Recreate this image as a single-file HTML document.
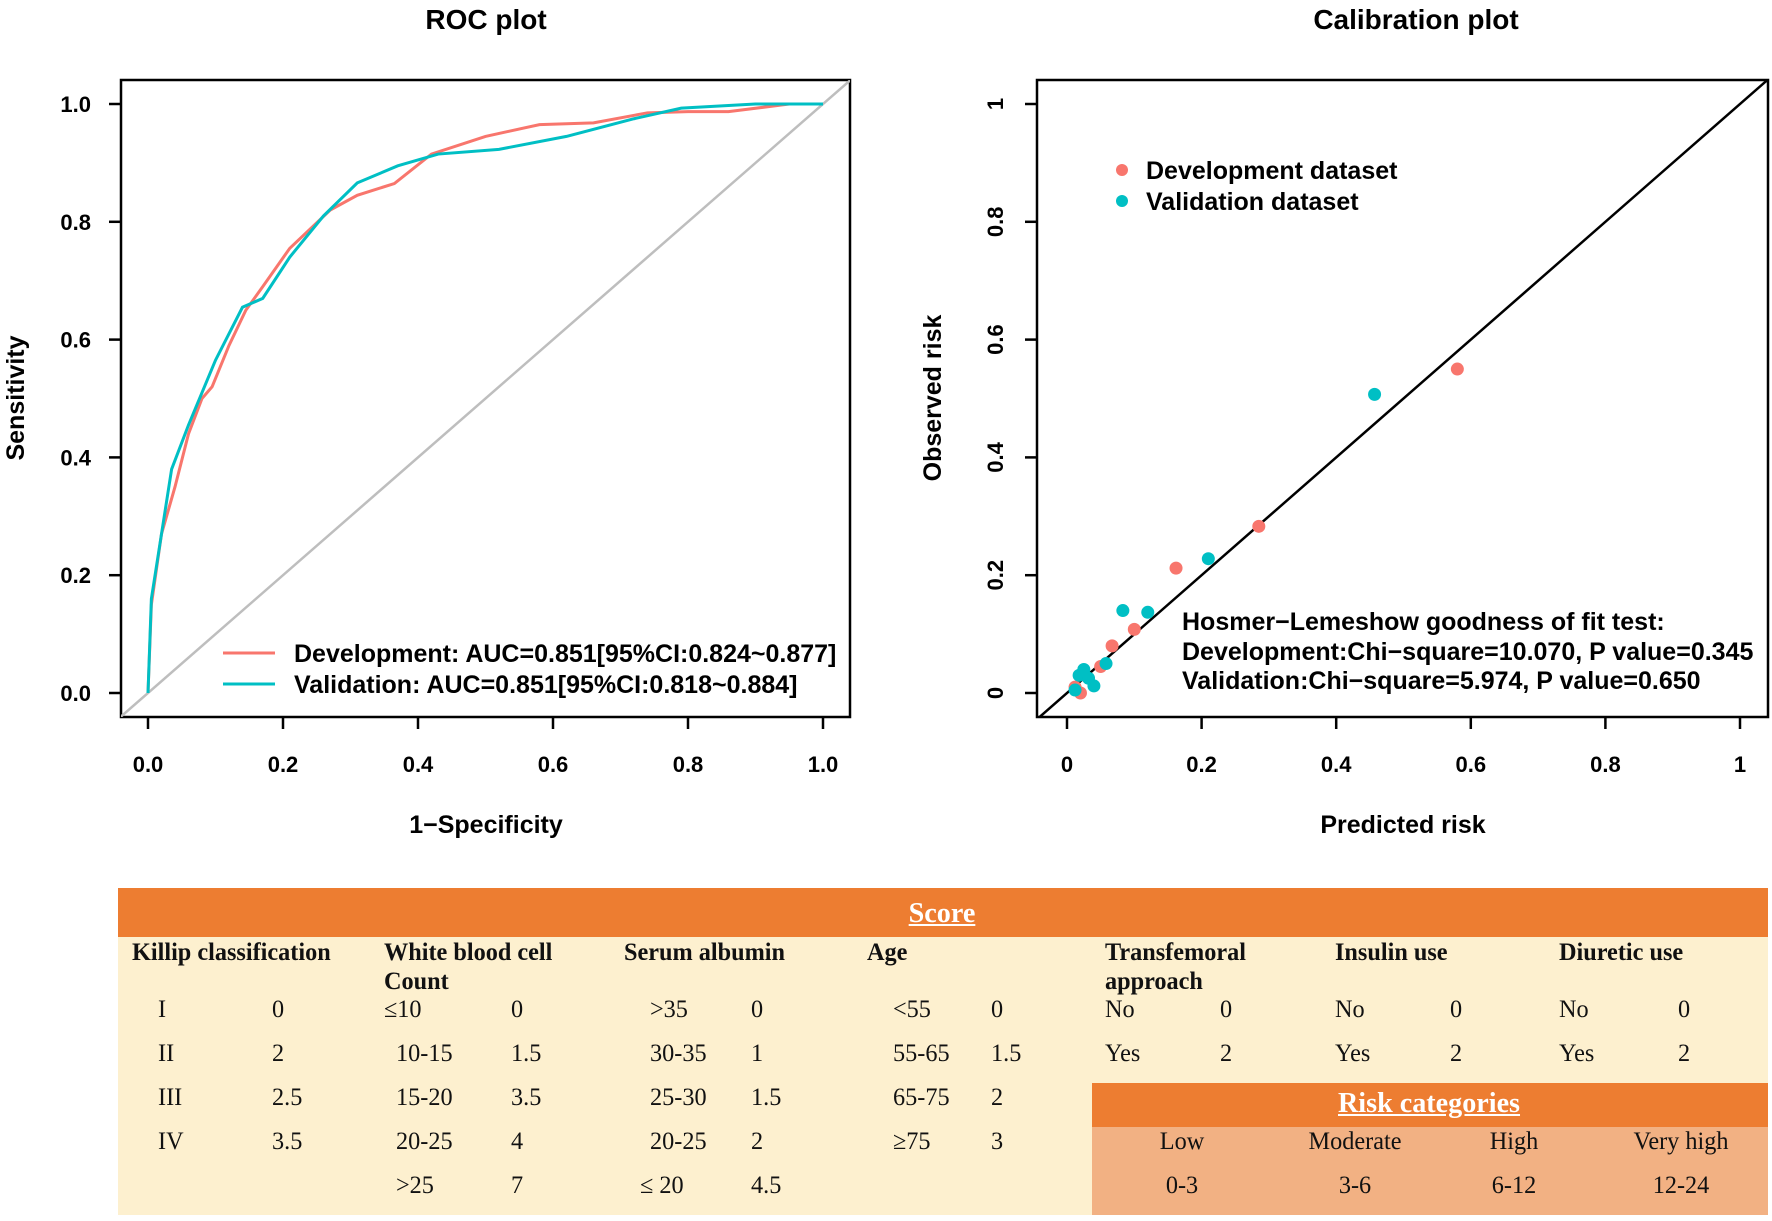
<!DOCTYPE html>
<html><head><meta charset="utf-8">
<style>
body{margin:0;width:1772px;height:1221px;background:#fff;overflow:hidden;position:relative;font-family:"Liberation Sans",sans-serif}
svg{position:absolute;left:0;top:0}
.t{position:absolute;font-family:"Liberation Serif",serif;font-size:25px;color:#111;white-space:nowrap;transform:scaleX(0.97);transform-origin:left top}
.c{transform:translateX(-50%) scaleX(0.97);transform-origin:center top}
</style></head><body>
<svg id="s" width="1772" height="1221" font-family="Liberation Sans, sans-serif" font-weight="bold">
<text x="486" y="29" font-size="28" text-anchor="middle">ROC plot</text>
<text x="1416" y="29" font-size="28" text-anchor="middle">Calibration plot</text>
<rect x="121" y="80" width="729" height="637" fill="none" stroke="#000" stroke-width="2.5"/>
<rect x="1037" y="80" width="731" height="637" fill="none" stroke="#000" stroke-width="2.5"/>
<defs><clipPath id="c1"><rect x="121" y="80" width="729" height="637"/></clipPath><clipPath id="c2"><rect x="1037" y="80" width="731" height="637"/></clipPath></defs>
<g id="g1" clip-path="url(#c1)"></g>
<g id="g2" clip-path="url(#c2)"></g>
<g id="ax" font-size="22"></g>
<text x="486" y="833" font-size="25" text-anchor="middle">1−Specificity</text>
<text x="1403" y="833" font-size="25" text-anchor="middle">Predicted risk</text>
<text transform="translate(24,398) rotate(-90)" font-size="25" text-anchor="middle">Sensitivity</text>
<text transform="translate(941,398) rotate(-90)" font-size="25" text-anchor="middle">Observed risk</text>
<line x1="223" y1="653" x2="275" y2="653" stroke="#F8766D" stroke-width="3"/>
<line x1="223" y1="684" x2="275" y2="684" stroke="#00BFC4" stroke-width="3"/>
<text x="294" y="662" font-size="25">Development: AUC=0.851[95%CI:0.824~0.877]</text>
<text x="294" y="693" font-size="25">Validation: AUC=0.851[95%CI:0.818~0.884]</text>
<circle cx="1122" cy="170" r="6" fill="#F8766D"/>
<circle cx="1122" cy="201" r="6" fill="#00BFC4"/>
<text x="1146" y="179" font-size="25">Development dataset</text>
<text x="1146" y="210" font-size="25">Validation dataset</text>
<text x="1182" y="630" font-size="25">Hosmer−Lemeshow goodness of fit test:</text>
<text x="1182" y="660" font-size="25">Development:Chi−square=10.070, P value=0.345</text>
<text x="1182" y="689" font-size="25">Validation:Chi−square=5.974, P value=0.650</text>
<rect x="118" y="888" width="1650" height="327" fill="#FDF0CF"/>
<rect x="118" y="888" width="1650" height="49" fill="#ED7D31"/>
<rect x="1092" y="1083" width="676" height="44" fill="#ED7D31"/>
<rect x="1092" y="1127" width="676" height="88" fill="#F2B183"/>
</svg>
<div class="t c" style="left:942px;top:897px;color:#fff;text-decoration:underline;font-size:29px;font-weight:bold">Score</div>
<div class="t c" style="left:1429px;top:1087px;color:#fff;text-decoration:underline;font-size:29px;font-weight:bold">Risk categories</div>
<div id="tb"></div>
<script>
var ns="http://www.w3.org/2000/svg";
function el(p,t,a){var e=document.createElementNS(ns,t);for(var k in a)e.setAttribute(k,a[k]);p.appendChild(e);return e;}
var g1=document.getElementById('g1'),g2=document.getElementById('g2'),ax=document.getElementById('ax');
function X1(x){return 148+675*x}function Y(y){return 693-589*y}function X2(x){return 1067+673*x}
el(g1,'line',{x1:X1(-0.05),y1:Y(-0.05),x2:X1(1.05),y2:Y(1.05),stroke:'#BEBEBE','stroke-width':2.5});
var dev=[[0,0],[0.005,0.15],[0.02,0.27],[0.04,0.35],[0.06,0.44],[0.08,0.5],[0.095,0.52],[0.12,0.59],[0.145,0.65],[0.17,0.69],[0.21,0.755],[0.27,0.82],[0.31,0.845],[0.365,0.865],[0.42,0.915],[0.5,0.945],[0.58,0.965],[0.66,0.968],[0.74,0.985],[0.8,0.987],[0.86,0.987],[0.95,1],[1,1]];
var val=[[0,0],[0.005,0.16],[0.02,0.27],[0.035,0.38],[0.06,0.455],[0.1,0.565],[0.14,0.655],[0.17,0.67],[0.21,0.74],[0.26,0.81],[0.31,0.866],[0.37,0.895],[0.43,0.915],[0.52,0.923],[0.62,0.945],[0.72,0.975],[0.79,0.993],[0.9,1],[1,1]];
function pl(d,c){el(g1,'polyline',{points:d.map(function(p){return X1(p[0])+','+Y(p[1])}).join(' '),fill:'none',stroke:c,'stroke-width':3});}
pl(dev,'#F8766D');pl(val,'#00BFC4');
el(g2,'line',{x1:X2(-0.1),y1:Y(-0.1),x2:X2(1.1),y2:Y(1.1),stroke:'#000','stroke-width':2.5});
var cd=[[0.58,0.55],[0.285,0.283],[0.162,0.212],[0.10,0.108],[0.067,0.08],[0.05,0.045],[0.02,0.0],[0.012,0.01]];
var cv=[[0.457,0.507],[0.21,0.228],[0.083,0.14],[0.12,0.137],[0.058,0.05],[0.025,0.04],[0.018,0.03],[0.04,0.012],[0.012,0.005],[0.032,0.025]];
cd.forEach(function(p){el(g2,'circle',{cx:X2(p[0]),cy:Y(p[1]),r:6.5,fill:'#F8766D'})});
cv.forEach(function(p){el(g2,'circle',{cx:X2(p[0]),cy:Y(p[1]),r:6.5,fill:'#00BFC4'})});
var lb=['0.0','0.2','0.4','0.6','0.8','1.0'],lc=['0','0.2','0.4','0.6','0.8','1'];
for(var i=0;i<6;i++){var v=i*0.2;
 el(ax,'line',{x1:X1(v),y1:717,x2:X1(v),y2:729,stroke:'#000','stroke-width':2.5});
 el(ax,'text',{x:X1(v),y:772,'text-anchor':'middle'}).textContent=lb[i];
 el(ax,'line',{x1:109,y1:Y(v),x2:121,y2:Y(v),stroke:'#000','stroke-width':2.5});
 el(ax,'text',{x:91,y:Y(v)+8,'text-anchor':'end'}).textContent=lb[i];
 el(ax,'line',{x1:X2(v),y1:717,x2:X2(v),y2:729,stroke:'#000','stroke-width':2.5});
 el(ax,'text',{x:X2(v),y:772,'text-anchor':'middle'}).textContent=lc[i];
 el(ax,'line',{x1:1025,y1:Y(v),x2:1037,y2:Y(v),stroke:'#000','stroke-width':2.5});
 el(ax,'text',{transform:'translate(1003,'+Y(v)+') rotate(-90)','text-anchor':'middle'}).textContent=lc[i];
}
var T=[
[132,953,'Killip classification'],[384,953,'White blood cell'],[384,982,'Count'],[624,953,'Serum albumin'],[867,953,'Age'],[1105,953,'Transfemoral'],[1105,982,'approach'],[1335,953,'Insulin use'],[1559,953,'Diuretic use'],
[158,1010,'I'],[272,1010,'0'],[384,1010,'≤10'],[511,1010,'0'],[650,1010,'>35'],[751,1010,'0'],[893,1010,'<55'],[991,1010,'0'],[1105,1010,'No'],[1220,1010,'0'],[1335,1010,'No'],[1450,1010,'0'],[1559,1010,'No'],[1678,1010,'0'],
[158,1054,'II'],[272,1054,'2'],[396,1054,'10-15'],[511,1054,'1.5'],[650,1054,'30-35'],[751,1054,'1'],[893,1054,'55-65'],[991,1054,'1.5'],[1105,1054,'Yes'],[1220,1054,'2'],[1335,1054,'Yes'],[1450,1054,'2'],[1559,1054,'Yes'],[1678,1054,'2'],
[158,1098,'III'],[272,1098,'2.5'],[396,1098,'15-20'],[511,1098,'3.5'],[650,1098,'25-30'],[751,1098,'1.5'],[893,1098,'65-75'],[991,1098,'2'],
[158,1142,'IV'],[272,1142,'3.5'],[396,1142,'20-25'],[511,1142,'4'],[650,1142,'20-25'],[751,1142,'2'],[893,1142,'≥75'],[991,1142,'3'],
[396,1186,'>25'],[511,1186,'7'],[640,1186,'≤ 20'],[751,1186,'4.5']];
var tb=document.getElementById('tb'),h='';
T.forEach(function(r){var y=r[1];var b=(y===953||y===982);h+='<div class="t" style="left:'+r[0]+'px;top:'+(y-14)+'px'+(b?';font-weight:bold':'')+'">'+r[2].replace(/</g,'&lt;').replace(/>/g,'&gt;')+'</div>';});
[[1182,'Low','0-3'],[1355,'Moderate','3-6'],[1514,'High','6-12'],[1681,'Very high','12-24']].forEach(function(r){
 h+='<div class="t c" style="left:'+r[0]+'px;top:1128px">'+r[1]+'</div><div class="t c" style="left:'+r[0]+'px;top:1172px">'+r[2]+'</div>';});
tb.innerHTML=h;
</script>
</body></html>
